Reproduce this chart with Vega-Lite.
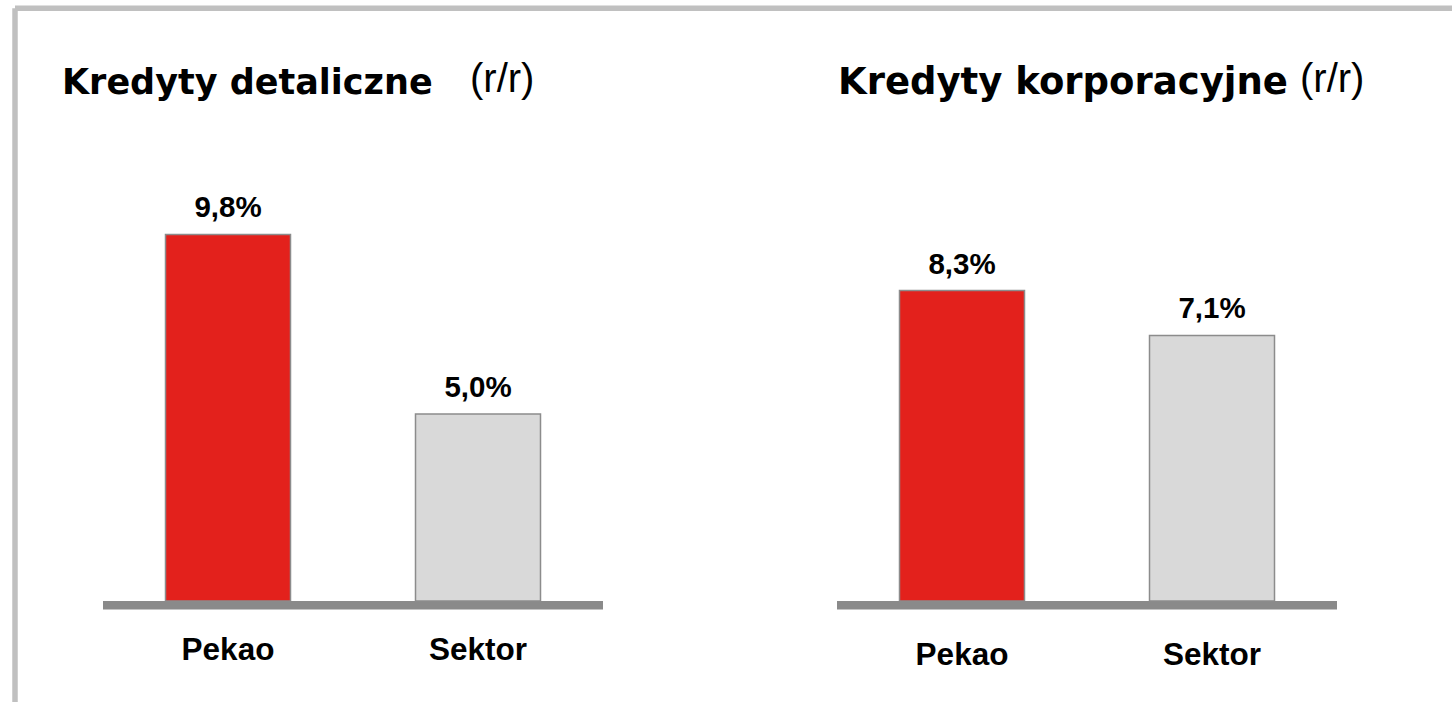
{
  "$schema": "https://vega.github.io/schema/vega-lite/v6.json",
  "autosize": {"type": "none"},
  "width": 1437.5,
  "height": 694.25,
  "padding": {"left": 14.5, "top": 7.75, "right": 0, "bottom": 0},
  "background": "white",
  "config": {"view": {"stroke": null}, "font": "Liberation Sans"},
  "datasets": {
    "bars": [
      {"panel": "Kredyty detaliczne", "bank": "Pekao", "value": 9.8, "label": "9,8%"},
      {"panel": "Kredyty detaliczne", "bank": "Sektor", "value": 5.0, "label": "5,0%"},
      {"panel": "Kredyty korporacyjne", "bank": "Pekao", "value": 8.3, "label": "8,3%"},
      {"panel": "Kredyty korporacyjne", "bank": "Sektor", "value": 7.1, "label": "7,1%"}
    ],
    "panels": [
      {"panel": "Kredyty detaliczne", "note": "(r/r)"},
      {"panel": "Kredyty korporacyjne", "note": "(r/r)"}
    ]
  },
  "encoding": {
    "x": {
      "field": "panel",
      "type": "nominal",
      "scale": {"domain": ["Kredyty detaliczne", "Kredyty korporacyjne"], "paddingInner": 0.3188, "paddingOuter": 0.13862, "align": 0.4349},
      "axis": {"orient": "top", "title": null, "labels": false, "ticks": false, "domain": true, "domainColor": "#c0c0c0", "domainWidth": 5.5, "grid": false}
    }
  },
  "layer": [
    {
      "data": {"name": "panels"},
      "mark": {"type": "rect", "color": "#8a8a8a"},
      "encoding": {
        "y": {"datum": 0, "type": "quantitative", "scale": {"domain": [-2.7, 15.86], "nice": false, "zero": false},
          "axis": {"orient": "left", "title": null, "labels": false, "ticks": false, "grid": false, "domain": true, "domainColor": "#c0c0c0", "domainWidth": 5.5}},
        "y2": {"datum": -0.23}
      }
    },
    {
      "data": {"name": "bars"},
      "mark": {"type": "bar", "stroke": "#8c8c8c", "strokeWidth": 1.5},
      "encoding": {
        "xOffset": {"field": "bank", "type": "nominal", "scale": {"paddingInner": 0.5, "paddingOuter": 0.25}},
        "y": {"field": "value", "type": "quantitative"},
        "y2": {"datum": 0},
        "color": {"field": "bank", "type": "nominal", "scale": {"domain": ["Pekao", "Sektor"], "range": ["#e3211c", "#d9d9d9"]}, "legend": null}
      }
    },
    {
      "data": {"name": "bars"},
      "mark": {"type": "text", "fontWeight": "bold", "fontSize": 29.5, "baseline": "alphabetic", "dy": -17, "color": "#000000"},
      "encoding": {
        "xOffset": {"field": "bank", "type": "nominal", "scale": {"paddingInner": 0.5, "paddingOuter": 0.25}},
        "y": {"field": "value", "type": "quantitative"},
        "text": {"field": "label"}
      }
    },
    {
      "data": {"name": "bars"},
      "transform": [{"filter": "datum.panel == 'Kredyty detaliczne'"}],
      "mark": {"type": "text", "fontWeight": "bold", "fontSize": 31.5, "baseline": "alphabetic", "dy": 59, "color": "#000000"},
      "encoding": {
        "xOffset": {"field": "bank", "type": "nominal", "scale": {"paddingInner": 0.5, "paddingOuter": 0.25}},
        "y": {"datum": 0, "type": "quantitative"},
        "text": {"field": "bank"}
      }
    },
    {
      "data": {"name": "bars"},
      "transform": [{"filter": "datum.panel == 'Kredyty korporacyjne'"}],
      "mark": {"type": "text", "fontWeight": "bold", "fontSize": 31.5, "baseline": "alphabetic", "dy": 64, "color": "#000000"},
      "encoding": {
        "xOffset": {"field": "bank", "type": "nominal", "scale": {"paddingInner": 0.5, "paddingOuter": 0.25}},
        "y": {"datum": 0, "type": "quantitative"},
        "text": {"field": "bank"}
      }
    },
    {
      "data": {"name": "panels"},
      "transform": [{"filter": "datum.panel == 'Kredyty detaliczne'"}],
      "mark": {"type": "text", "font": "DejaVu Sans", "fontWeight": "bold", "fontSize": 35, "align": "left", "baseline": "alphabetic", "dx": -41, "color": "#000000"},
      "encoding": {
        "x": {"field": "panel", "type": "nominal", "bandPosition": 0},
        "y": {"datum": 13.55, "type": "quantitative"},
        "text": {"field": "panel"}
      }
    },
    {
      "data": {"name": "panels"},
      "transform": [{"filter": "datum.panel == 'Kredyty korporacyjne'"}],
      "mark": {"type": "text", "font": "DejaVu Sans", "fontWeight": "bold", "fontSize": 37, "align": "left", "baseline": "alphabetic", "dx": 1, "color": "#000000"},
      "encoding": {
        "x": {"field": "panel", "type": "nominal", "bandPosition": 0},
        "y": {"datum": 13.55, "type": "quantitative"},
        "text": {"field": "panel"}
      }
    },
    {
      "data": {"name": "panels"},
      "transform": [{"filter": "datum.panel == 'Kredyty detaliczne'"}],
      "mark": {"type": "text", "font": "Liberation Sans Narrow, Liberation Sans", "fontSize": 40, "align": "left", "baseline": "alphabetic", "dx": 367, "color": "#000000"},
      "encoding": {
        "x": {"field": "panel", "type": "nominal", "bandPosition": 0},
        "y": {"datum": 13.6, "type": "quantitative"},
        "text": {"field": "note"}
      }
    },
    {
      "data": {"name": "panels"},
      "transform": [{"filter": "datum.panel == 'Kredyty korporacyjne'"}],
      "mark": {"type": "text", "font": "Liberation Sans Narrow, Liberation Sans", "fontSize": 40, "align": "left", "baseline": "alphabetic", "dx": 463, "color": "#000000"},
      "encoding": {
        "x": {"field": "panel", "type": "nominal", "bandPosition": 0},
        "y": {"datum": 13.6, "type": "quantitative"},
        "text": {"field": "note"}
      }
    }
  ]
}
